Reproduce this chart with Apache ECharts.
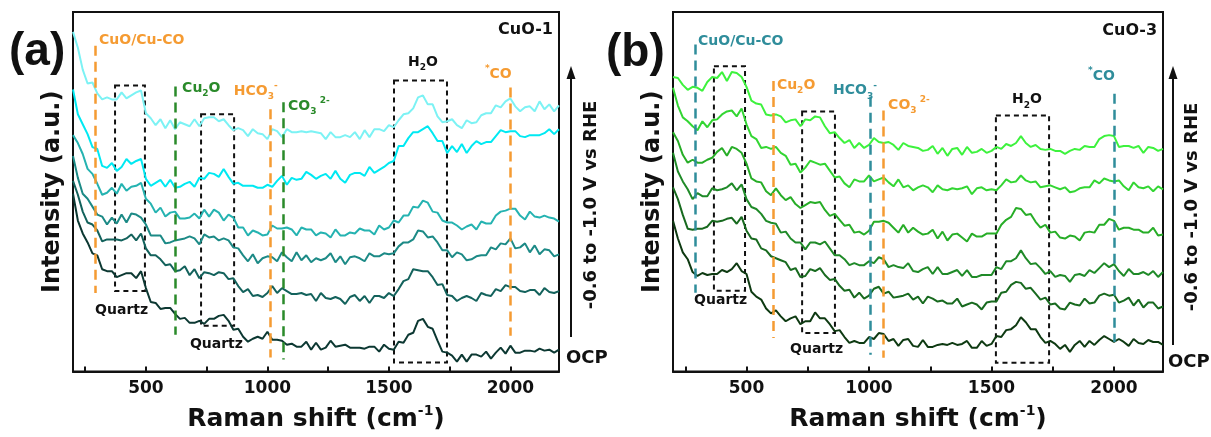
<!DOCTYPE html>
<html>
<head>
<meta charset="utf-8">
<script src="https://cdn.jsdelivr.net/npm/echarts@6/dist/echarts.min.js"></script>
<style>
  html, body { margin: 0; padding: 0; background: #fff; }
  #chart { width: 1211px; height: 437px; }
</style>
</head>
<body>
<div id="chart"></div>
<script>
// Raman shift sampling (cm-1), shared by every spectrum
const ramanShift = [
  200, 220, 240, 260, 280, 300, 320, 340, 360, 380,
  400, 420, 440, 460, 480, 500, 520, 540, 560, 580,
  600, 620, 640, 660, 680, 700, 720, 740, 760, 780,
  800, 820, 840, 860, 880, 900, 920, 940, 960, 980,
  1000, 1020, 1040, 1060, 1080, 1100, 1120, 1140, 1160, 1180,
  1200, 1220, 1240, 1260, 1280, 1300, 1320, 1340, 1360, 1380,
  1400, 1420, 1440, 1460, 1480, 1500, 1520, 1540, 1560, 1580,
  1600, 1620, 1640, 1660, 1680, 1700, 1720, 1740, 1760, 1780,
  1800, 1820, 1840, 1860, 1880, 1900, 1920, 1940, 1960, 1980,
  2000, 2020, 2040, 2060, 2080, 2100, 2120, 2140, 2160, 2180,
  2200
];

// CuO-1 spectra (offset intensity, a.u.), from OCP up to the most negative potential
const cuo1Ocp = [
  179, 152, 139, 130, 119, 117, 103, 101, 101, 95,
  97, 99, 99, 94, 101, 84, 70, 69, 63, 64,
  64, 58, 53, 54, 49, 49, 51, 48, 53, 53,
  56, 57, 51, 42, 43, 35, 30, 33, 35, 33,
  40, 32, 32, 31, 27, 28, 25, 25, 30, 22,
  29, 22, 24, 31, 25, 26, 27, 24, 24, 24,
  23, 25, 25, 20, 27, 23, 22, 30, 29, 37,
  39, 51, 53, 45, 43, 31, 20, 19, 16, 10,
  17, 10, 17, 17, 15, 20, 13, 19, 24, 18,
  26, 19, 19, 21, 21, 20, 23, 21, 22, 19,
  22
];
const cuo1Step2 = [
  192, 178, 161, 150, 148, 142, 131, 133, 133, 133,
  132, 134, 138, 132, 139, 124, 117, 117, 113, 107,
  108, 101, 102, 106, 97, 103, 94, 100, 99, 97,
  100, 99, 93, 94, 86, 80, 83, 76, 77, 75,
  79, 86, 79, 84, 81, 78, 78, 79, 77, 78,
  71, 79, 74, 73, 75, 73, 68, 75, 77, 71,
  76, 69, 76, 76, 74, 79, 76, 83, 91, 93,
  103, 102, 101, 101, 95, 87, 88, 77, 76, 71,
  74, 76, 74, 71, 79, 77, 76, 83, 81, 87,
  85, 85, 81, 80, 82, 82, 77, 84, 80, 79,
  81
];
const cuo1Step3 = [
  217, 195, 179, 174, 166, 158, 156, 148, 155, 149,
  158, 150, 159, 158, 155, 148, 137, 137, 137, 129,
  130, 132, 133, 134, 136, 134, 128, 138, 135, 136,
  132, 134, 132, 125, 124, 117, 111, 118, 109, 114,
  116, 115, 111, 120, 115, 111, 120, 112, 117, 110,
  114, 112, 114, 119, 110, 116, 108, 115, 116, 114,
  111, 119, 116, 116, 119, 118, 119, 126, 130, 130,
  133, 142, 141, 135, 136, 130, 122, 122, 115, 120,
  118, 112, 113, 116, 117, 117, 125, 123, 129, 128,
  134, 124, 125, 129, 120, 127, 118, 123, 122, 116,
  118
];
const cuo1Step4 = [
  238, 230, 219, 204, 199, 189, 178, 180, 185, 179,
  189, 182, 186, 187, 190, 174, 169, 160, 165, 156,
  160, 161, 154, 154, 155, 159, 154, 163, 156, 163,
  160, 152, 158, 155, 145, 145, 137, 142, 140, 137,
  138, 147, 144, 144, 145, 143, 137, 145, 143, 143,
  137, 140, 139, 135, 143, 137, 137, 140, 139, 144,
  142, 142, 138, 147, 143, 145, 152, 150, 157, 157,
  166, 165, 172, 170, 161, 160, 152, 150, 150, 147,
  143, 146, 148, 143, 151, 149, 149, 157, 161, 162,
  164, 164, 157, 153, 161, 156, 155, 157, 155, 154,
  151
];
const cuo1Step5 = [
  284, 259, 249, 239, 226, 224, 207, 205, 210, 202,
  206, 214, 209, 212, 214, 194, 187, 190, 193, 186,
  193, 185, 186, 189, 191, 186, 195, 194, 200, 199,
  196, 204, 196, 189, 190, 187, 187, 187, 185, 185,
  188, 186, 192, 197, 188, 195, 193, 194, 201, 198,
  194, 197, 199, 194, 202, 194, 190, 198, 200, 200,
  197, 206, 200, 203, 206, 210, 212, 227, 227, 235,
  241, 241, 244, 247, 240, 232, 232, 220, 227, 221,
  229, 220, 227, 232, 229, 231, 231, 237, 243, 241,
  242, 242, 237, 236, 238, 238, 238, 240, 244, 239,
  244
];
const cuo1Step6 = [
  342, 326, 304, 290, 291, 280, 274, 276, 274, 274,
  281, 275, 278, 281, 283, 260, 255, 248, 254, 245,
  253, 244, 251, 249, 247, 254, 247, 255, 256, 256,
  252, 254, 248, 243, 245, 243, 237, 244, 240, 239,
  234, 244, 242, 236, 244, 241, 241, 242, 241, 242,
  241, 240, 234, 241, 236, 236, 238, 236, 241, 234,
  243, 236, 244, 244, 242, 248, 246, 253, 259, 260,
  265, 276, 278, 269, 269, 257, 251, 252, 254, 248,
  245, 253, 250, 251, 258, 260, 260, 268, 266, 272,
  275, 267, 262, 266, 267, 262, 272, 264, 269, 262,
  268
];

// CuO-3 spectra (offset intensity, a.u.), from OCP up to the most negative potential
const cuo3Ocp = [
  153, 135, 121, 114, 101, 97, 100, 98, 99, 99,
  103, 101, 104, 110, 102, 99, 81, 76, 73, 64,
  59, 62, 56, 51, 54, 56, 48, 51, 51, 60,
  54, 54, 48, 41, 42, 35, 29, 31, 29, 29,
  35, 33, 39, 38, 31, 33, 26, 32, 33, 26,
  25, 32, 25, 25, 27, 28, 27, 29, 27, 28,
  31, 24, 24, 31, 26, 28, 36, 35, 42, 43,
  47, 55, 50, 43, 43, 35, 29, 31, 28, 23,
  27, 20, 27, 31, 25, 31, 27, 32, 36, 33,
  30, 33, 30, 26, 33, 29, 28, 32, 30, 30,
  27
];
const cuo3Step2 = [
  187, 175, 159, 145, 144, 145, 145, 147, 153, 152,
  153, 155, 156, 150, 157, 143, 135, 134, 125, 123,
  117, 115, 113, 111, 103, 105, 96, 97, 104, 102,
  105, 98, 93, 94, 87, 82, 83, 75, 80, 74,
  77, 84, 86, 79, 81, 75, 76, 77, 79, 73,
  76, 69, 76, 74, 71, 72, 69, 69, 74, 66,
  68, 70, 68, 63, 70, 71, 71, 80, 81, 88,
  91, 90, 84, 85, 79, 73, 75, 68, 69, 64,
  63, 70, 68, 67, 74, 69, 70, 77, 79, 77,
  78, 70, 72, 75, 67, 73, 65, 70, 70, 64,
  66
];
const cuo3Step3 = [
  222, 203, 193, 185, 175, 181, 178, 178, 186, 184,
  185, 187, 191, 184, 190, 175, 167, 165, 160, 153,
  151, 150, 141, 142, 135, 131, 131, 124, 131, 131,
  129, 132, 125, 118, 118, 114, 108, 110, 108, 108,
  112, 110, 116, 114, 106, 108, 106, 105, 110, 102,
  101, 104, 106, 99, 106, 99, 99, 101, 103, 97,
  103, 96, 96, 98, 98, 98, 106, 104, 112, 112,
  115, 123, 115, 109, 110, 105, 99, 102, 96, 98,
  97, 91, 98, 99, 97, 103, 100, 105, 110, 106,
  109, 102, 97, 104, 99, 99, 101, 98, 102, 96,
  101
];
const cuo3Step4 = [
  243, 234, 220, 212, 215, 212, 212, 215, 217, 223,
  227, 219, 228, 226, 222, 211, 196, 193, 192, 183,
  179, 186, 179, 174, 177, 170, 166, 169, 172, 171,
  172, 164, 158, 160, 154, 148, 149, 141, 142, 139,
  143, 152, 152, 153, 151, 146, 141, 149, 141, 146,
  142, 139, 140, 144, 135, 142, 133, 139, 140, 136,
  132, 140, 137, 137, 140, 140, 140, 149, 154, 157,
  166, 165, 159, 160, 152, 146, 149, 141, 142, 136,
  135, 138, 137, 133, 141, 142, 141, 149, 149, 155,
  153, 144, 146, 146, 144, 144, 141, 141, 146, 138,
  139
];
const cuo3Step5 = [
  288, 270, 258, 254, 249, 245, 254, 248, 255, 256,
  261, 264, 265, 259, 267, 251, 239, 236, 227, 228,
  226, 228, 222, 219, 210, 211, 202, 207, 214, 212,
  210, 211, 204, 197, 198, 191, 187, 195, 193, 193,
  199, 193, 195, 197, 192, 188, 195, 187, 189, 184,
  187, 189, 187, 182, 189, 185, 184, 186, 185, 186,
  188, 180, 186, 187, 184, 185, 184, 189, 195, 192,
  193, 199, 194, 192, 193, 187, 188, 189, 187, 185,
  187, 182, 183, 186, 187, 187, 194, 191, 196, 194,
  193, 194, 188, 184, 192, 187, 186, 188, 183, 188,
  185
];
const cuo3Step6 = [
  299, 298, 291, 286, 289, 288, 285, 294, 299, 298,
  304, 295, 304, 303, 299, 289, 275, 272, 271, 261,
  260, 261, 259, 253, 255, 256, 249, 256, 255, 259,
  258, 249, 242, 243, 237, 232, 235, 227, 232, 227,
  230, 237, 233, 232, 233, 230, 225, 232, 229, 228,
  227, 224, 225, 229, 221, 227, 219, 226, 227, 220,
  228, 222, 223, 226, 222, 224, 228, 226, 231, 229,
  232, 239, 232, 228, 230, 226, 225, 226, 224, 224,
  221, 224, 226, 225, 229, 228, 228, 236, 239, 240,
  239, 228, 229, 229, 227, 229, 222, 228, 227, 224,
  226
];

const xTickLabels = [500, 1000, 1500, 2000];
const xTickMarks = [250, 500, 750, 1000, 1250, 1500, 1750, 2000];

const FONT = '"DejaVu Sans", sans-serif';
const INK = '#111111';
const ORANGE = '#f59b32';
const GREEN = '#2a8a2a';
const TEAL = '#2f8d9b';

const cuo1Colors = ['#0c3832', '#13625c', '#1c8a86', '#25b3b1', '#00e9f2', '#7cf2f4'];
const cuo3Colors = ['#0e3a12', '#186a1f', '#1f8a28', '#27ad27', '#33d633', '#3df23d'];

const toPoints = ys => ramanShift.map((x, i) => [x, ys[i]]);

function spectrumSeries(ys, color, idx) {
  return {
    type: 'line', xAxisIndex: idx, yAxisIndex: idx, data: toPoints(ys),
    showSymbol: false, silent: true, lineStyle: { color, width: 2 }, z: 2
  };
}

// rich-text label with sub/superscripts for peak assignments
function tag(fmt, color, size) {
  const s = size || 14;
  const base = { fontWeight: 'bold', fontFamily: FONT, color };
  return {
    formatter: fmt,
    rich: {
      m: Object.assign({ fontSize: s, lineHeight: 20 }, base),
      s: Object.assign({ fontSize: 9, lineHeight: 9, verticalAlign: 'bottom' }, base),
      p: Object.assign({ fontSize: 9, lineHeight: 9, verticalAlign: 'top' }, base)
    }
  };
}

function vline(x, y1, y2, color) {
  return [{ coord: [x, y1], lineStyle: { color } }, { coord: [x, y2] }];
}
function box(x1, y1, x2, y2) {
  return [{ coord: [x1, y1] }, { coord: [x2, y2] }];
}
function note(x, y, label, pos) {
  if (pos) label.position = pos;
  return { coord: [x, y], label };
}

function annotationSeries(idx, lines, boxes, notes) {
  return {
    type: 'line', xAxisIndex: idx, yAxisIndex: idx, data: [], silent: true, z: 5,
    markLine: {
      silent: true, symbol: ['none', 'none'], label: { show: false },
      lineStyle: { type: [10, 6], width: 2.5 }, data: lines
    },
    markArea: {
      silent: true,
      itemStyle: { color: 'rgba(0,0,0,0)', borderColor: INK, borderWidth: 2, borderType: [5, 4] },
      data: boxes
    },
    markPoint: {
      silent: true, symbol: 'circle', symbolSize: 0,
      label: { show: true, position: 'right', distance: 0 },
      data: notes
    }
  };
}

function makeX(idx) {
  return {
    type: 'value', gridIndex: idx, min: 200, max: 2200,
    axisLine: { show: true, lineStyle: { color: INK, width: 2 } },
    axisTick: { show: true, inside: true, length: 5, customValues: xTickMarks, lineStyle: { color: INK, width: 2 } },
    axisLabel: {
      customValues: xTickLabels, formatter: v => String(v),
      color: INK, fontSize: 17, fontWeight: 'bold', fontFamily: FONT, margin: 9
    },
    splitLine: { show: false },
    name: '{m|Raman shift (cm}{p|-1}{m|)}',
    nameLocation: 'middle', nameGap: 33,
    nameTextStyle: {
      rich: {
        m: { fontSize: 25, fontWeight: 'bold', fontFamily: FONT, color: INK, lineHeight: 30 },
        p: { fontSize: 14, fontWeight: 'bold', fontFamily: FONT, color: INK, lineHeight: 14, verticalAlign: 'top' }
      }
    }
  };
}
function makeY(idx, max) {
  return {
    type: 'value', gridIndex: idx, min: 0, max,
    axisLine: { show: true, lineStyle: { color: INK, width: 2 } },
    axisTick: { show: false }, axisLabel: { show: false }, splitLine: { show: false },
    name: 'Intensity (a.u.)', nameLocation: 'middle', nameRotate: 90, nameGap: 8,
    nameTextStyle: { fontSize: 24, fontWeight: 'bold', fontFamily: FONT, color: INK }
  };
}

const spectraA = [cuo1Ocp, cuo1Step2, cuo1Step3, cuo1Step4, cuo1Step5, cuo1Step6];
const spectraB = [cuo3Ocp, cuo3Step2, cuo3Step3, cuo3Step4, cuo3Step5, cuo3Step6];

const series = [];
spectraA.forEach((ys, i) => series.push(spectrumSeries(ys, cuo1Colors[i], 0)));
spectraB.forEach((ys, i) => series.push(spectrumSeries(ys, cuo3Colors[i], 1)));

series.push(annotationSeries(0,
  [vline(290, 328, 79, ORANGE), vline(620, 287, 37, GREEN), vline(1010, 264, 14, ORANGE),
   vline(1065, 271, 12, GREEN), vline(2000, 286, 36, ORANGE)],
  [box(373, 288, 496, 81), box(727, 259, 863, 46), box(1521, 293, 1739, 9)],
  [note(307, 333, tag('{m|CuO/Cu-CO}', ORANGE)),
   note(649, 285, tag('{m|Cu}{s|2}{m|O}', GREEN)),
   note(862, 282, tag('{m|HCO}{s|3}{p|-}', ORANGE)),
   note(1085, 267, tag('{m|CO}{s|3}{p| 2-}', GREEN)),
   note(1579, 311, tag('{m|H}{s|2}{m|O}', INK)),
   note(1895, 299, tag('{p|*}{m|CO}', ORANGE)),
   note(291, 62, tag('{m|Quartz}', INK)),
   note(681, 27, tag('{m|Quartz}', INK)),
   note(2175, 344, tag('{m|CuO-1}', INK, 16), 'left')]
));
series.push(annotationSeries(1,
  [vline(290, 332, 80, TEAL), vline(610, 295, 34, ORANGE), vline(1005, 279, 17, TEAL),
   vline(1060, 265, 14, ORANGE), vline(2000, 282, 30, TEAL)],
  [box(367, 310, 494, 82), box(727, 264, 861, 39), box(1518, 260, 1735, 9)],
  [note(302, 335, tag('{m|CuO/Cu-CO}', TEAL)),
   note(624, 291, tag('{m|Cu}{s|2}{m|O}', ORANGE)),
   note(853, 285, tag('{m|HCO}{s|3}{p|-}', TEAL)),
   note(1078, 270, tag('{m|CO}{s|3}{p| 2-}', ORANGE)),
   note(1584, 276, tag('{m|H}{s|2}{m|O}', INK)),
   note(1894, 300, tag('{p|*}{m|CO}', TEAL)),
   note(286, 72, tag('{m|Quartz}', INK)),
   note(678, 22, tag('{m|Quartz}', INK)),
   note(2176, 346, tag('{m|CuO-3}', INK, 16), 'left')]
));

// potential-sweep arrows and side captions
function sweepGraphics(x, yBottom, textX, textY, ocpX, ocpY) {
  return [
    { type: 'line', shape: { x1: x, y1: yBottom, x2: x, y2: 76 }, style: { stroke: INK, lineWidth: 2 } },
    { type: 'polygon', shape: { points: [[x, 66], [x - 4.5, 79], [x + 4.5, 79]] }, style: { fill: INK } },
    { type: 'text', x: textX, y: textY, rotation: Math.PI / 2,
      style: { text: '-0.6 to -1.0 V vs RHE', font: 'bold 18px "DejaVu Sans"', fill: INK, align: 'center', verticalAlign: 'middle' } },
    { type: 'text', x: ocpX, y: ocpY,
      style: { text: 'OCP', font: 'bold 18px "DejaVu Sans"', fill: INK, align: 'left', verticalAlign: 'middle' } }
  ];
}

const chart = echarts.init(document.getElementById('chart'));
chart.setOption({
  animation: false,
  backgroundColor: '#ffffff',
  grid: [
    { left: 73, top: 12, width: 486, height: 362, show: true, borderColor: INK, borderWidth: 2 },
    { left: 673, top: 12, width: 490, height: 365, show: true, borderColor: INK, borderWidth: 2 }
  ],
  xAxis: [makeX(0), makeX(1)],
  yAxis: [makeY(0, 362), makeY(1, 365)],
  series,
  graphic: [
    { type: 'text', x: 9, y: 52, style: { text: '(a)', font: 'bold 46px "Liberation Sans", Arial', fill: INK, align: 'left', verticalAlign: 'middle' } },
    { type: 'text', x: 606, y: 53, style: { text: '(b)', font: 'bold 46px "Liberation Sans", Arial', fill: INK, align: 'left', verticalAlign: 'middle' } }
  ].concat(sweepGraphics(571, 337, 591, 205, 566, 358))
   .concat(sweepGraphics(1173, 345, 1192, 207, 1168, 362))
});
</script>
</body>
</html>
